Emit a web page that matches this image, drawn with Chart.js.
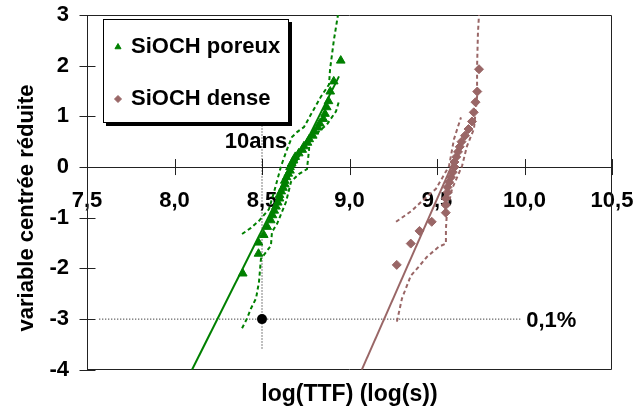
<!DOCTYPE html>
<html><head><meta charset="utf-8">
<script src="https://cdn.jsdelivr.net/npm/chart.js@4/dist/chart.umd.min.js"></script>
<style>html,body{margin:0;padding:0;background:#fff;overflow:hidden}</style>
</head><body>
<canvas id="c" width="636" height="412"></canvas>
<script>
// ---- data ----
const xTickValues = [7.5, 8.0, 8.5, 9.0, 9.5, 10.0, 10.5];
const yTickValues = [-4, -3, -2, -1, 0, 1, 2, 3];
const seriesNames = ['SiOCH poreux', 'SiOCH dense'];
const xAxisTitle = 'log(TTF) (log(s))';
const yAxisTitle = 'variable centrée réduite';
const lifeLabel = '10ans';
const failLabel = '0,1%';

const porousX = [8.39,8.48,8.48,8.51,8.53,8.55,8.56,8.57,8.58,8.59,8.60,8.60,8.61,8.62,8.63,8.63,8.64,8.65,8.66,8.66,8.67,8.68,8.69,8.71,8.73,8.74,8.76,8.77,8.79,8.80,8.82,8.83,8.85,8.86,8.87,8.88,8.89,8.91,8.95];
const porousY = [-2.10,-1.71,-1.49,-1.34,-1.18,-1.05,-0.95,-0.86,-0.78,-0.70,-0.62,-0.55,-0.48,-0.41,-0.34,-0.27,-0.20,-0.13,-0.07,0.00,0.07,0.13,0.20,0.27,0.34,0.41,0.48,0.55,0.62,0.70,0.78,0.86,0.95,1.05,1.18,1.30,1.49,1.69,2.10];

const denseX = [9.27,9.35,9.40,9.47,9.55,9.55,9.55,9.56,9.56,9.57,9.58,9.59,9.60,9.60,9.61,9.62,9.63,9.64,9.66,9.68,9.70,9.71,9.72,9.73,9.74];
const denseY = [-1.93,-1.51,-1.26,-1.08,-0.90,-0.75,-0.62,-0.50,-0.40,-0.30,-0.20,-0.10,0.00,0.10,0.20,0.30,0.40,0.50,0.62,0.75,0.90,1.08,1.28,1.49,1.93];

const porousFitX = [8.10, 8.94];
const porousFitY = [-4.0, 1.79];
const denseFitX = [9.07, 9.67];
const denseFitY = [-4.0, 0.70];

const porousUpperX = [8.386,8.437,8.483,8.54,8.569,8.609,8.643,8.671,8.70,8.74,8.78,8.837,8.883,8.889,8.911,8.934];
const porousUpperY = [-1.32,-1.20,-1.06,-0.83,-0.49,0.02,0.35,0.59,0.69,0.79,1.04,1.39,1.63,1.93,2.51,3.0];
const porousLowerX = [8.386,8.414,8.437,8.466,8.483,8.494,8.551,8.557,8.586,8.637,8.666,8.71,8.757,8.769,8.769,8.809,8.871,8.923,8.94];
const porousLowerY = [-3.18,-2.99,-2.79,-2.59,-2.26,-1.81,-1.55,-1.28,-1.12,-0.69,-0.29,-0.14,-0.04,0.35,0.55,0.65,0.84,1.10,1.30];

const denseUpperX = [9.266,9.357,9.414,9.494,9.569,9.597,9.637];
const denseUpperY = [-1.08,-0.86,-0.67,-0.43,0.02,0.55,0.98];
const denseLowerX = [9.271,9.30,9.351,9.397,9.443,9.511,9.551,9.551,9.557,9.586,9.643,9.671,9.711,9.729,9.729,9.734,9.74];
const denseLowerY = [-3.05,-2.59,-2.14,-1.96,-1.77,-1.57,-1.51,-1.22,-0.88,-0.43,0.02,0.41,0.75,1.39,1.98,2.65,3.0];

const lifeLineX = [8.5, 8.5];
const lifeLineY = [0.82, -3.6];
const failLineX = [7.57, 9.98];
const failLineY = [-3.0, -3.0];
const targetX = [8.5];
const targetY = [-3.0];

// ---- helpers ----
const zip = (xs, ys) => xs.map((x, i) => ({x: x, y: ys[i]}));
const FONT = "'Liberation Sans', Arial, Helvetica, sans-serif";
const GREEN = '#008000';
const BROWN = '#996666';
const AREA = {left: 87, top: 15, right: 612, bottom: 370};
let yAxisWidth = AREA.left;

const lineDs = (xs, ys, color, width, dash) => ({
  type: 'line', label: '', data: zip(xs, ys), borderColor: color, backgroundColor: color,
  borderWidth: width, borderDash: dash || [], pointRadius: 0, showLine: true, fill: false, tension: 0
});

const datasets = [
  {type: 'scatter', label: seriesNames[0], data: zip(porousX, porousY), pointStyle: 'triangle',
   pointRadius: 5, borderWidth: 1, backgroundColor: GREEN, borderColor: GREEN},
  {type: 'scatter', label: seriesNames[1], data: zip(denseX, denseY), pointStyle: 'rectRot',
   pointRadius: 4.5, borderWidth: 1, backgroundColor: BROWN, borderColor: BROWN},
  {type: 'scatter', label: '', data: zip(targetX, targetY), pointStyle: 'circle',
   pointRadius: 5, borderWidth: 0, backgroundColor: '#000', borderColor: '#000'},
  lineDs(porousFitX, porousFitY, GREEN, 2, []),
  lineDs(denseFitX, denseFitY, BROWN, 2, []),
  lineDs(porousUpperX, porousUpperY, GREEN, 2, [4, 3]),
  lineDs(porousLowerX, porousLowerY, GREEN, 2, [4, 3]),
  lineDs(denseUpperX, denseUpperY, BROWN, 2, [4, 3]),
  lineDs(denseLowerX, denseLowerY, BROWN, 2, [4, 3]),
  lineDs(lifeLineX, lifeLineY, '#000', 1, [1, 2]),
  lineDs(failLineX, failLineY, '#000', 1, [1, 2])
];

// frame + crossing ticks
const framePlugin = {
  id: 'frame',
  beforeDatasetsDraw(chart) {
    const {ctx, chartArea: a, scales: {x, y}} = chart;
    ctx.save();
    ctx.strokeStyle = '#222';
    ctx.lineWidth = 1;
    const L = Math.round(a.left) + 0.5, R = Math.round(a.right) - 0.5;
    const T = Math.round(a.top) + 0.5, B = Math.round(a.bottom) - 0.5;
    ctx.beginPath();
    ctx.moveTo(L, T); ctx.lineTo(R, T); ctx.lineTo(R, B); ctx.lineTo(L, B); ctx.closePath();
    ctx.stroke();
    ctx.beginPath();
    yTickValues.forEach(v => {
      const py = Math.round(y.getPixelForValue(v)) + 0.5;
      ctx.moveTo(L - 8, py); ctx.lineTo(L + 8, py);
    });
    const y0 = y.getPixelForValue(0);
    xTickValues.forEach(v => {
      const px = Math.round(x.getPixelForValue(v)) + 0.5;
      ctx.moveTo(px, y0 - 8); ctx.lineTo(px, y0 + 8);
    });
    ctx.stroke();
    ctx.restore();
  }
};

// annotations, y title and legend
const overlayPlugin = {
  id: 'overlay',
  afterDatasetsDraw(chart) {
    const {ctx, scales: {x, y}} = chart;
    ctx.save();
    ctx.fillStyle = '#000';
    ctx.font = 'bold 22px ' + FONT;
    ctx.textBaseline = 'middle';
    ctx.textAlign = 'center';
    ctx.fillText(lifeLabel, x.getPixelForValue(8.466), y.getPixelForValue(0.49));
    ctx.textAlign = 'left';
    ctx.fillText(failLabel, x.getPixelForValue(10.01), y.getPixelForValue(-3.04));

    // y axis title
    ctx.save();
    ctx.translate(27, 208);
    ctx.rotate(-Math.PI / 2);
    ctx.textAlign = 'center';
    ctx.fillText(yAxisTitle, 0, 0);
    ctx.restore();

    // legend box
    const bx = 103, by = 19, bw = 186, bh = 104;
    ctx.fillStyle = '#000';
    ctx.fillRect(bx + 3, by + 3, bw, bh);
    ctx.fillStyle = '#fff';
    ctx.fillRect(bx, by, bw, bh);
    ctx.strokeStyle = '#000';
    ctx.lineWidth = 1;
    ctx.strokeRect(bx + 0.5, by + 0.5, bw - 1, bh - 1);
    const rows = [47, 99];
    [0, 1].forEach((di, i) => {
      const ds = chart.data.datasets[di];
      const yy = rows[i];
      const opts = {pointStyle: ds.pointStyle, radius: 3.5, borderWidth: 1, rotation: 0};
      ctx.fillStyle = ds.backgroundColor;
      ctx.strokeStyle = ds.borderColor;
      ctx.lineWidth = 1;
      if (Chart.helpers && Chart.helpers.drawPoint) {
        Chart.helpers.drawPoint(ctx, opts, 118, yy);
      }
      ctx.fillStyle = '#000';
      ctx.textAlign = 'left';
      ctx.textBaseline = 'middle';
      ctx.font = 'bold 22px ' + FONT;
      ctx.fillText(ds.label, 131, yy);
    });
    ctx.restore();
  }
};

const chart = new Chart(document.getElementById('c'), {
  type: 'scatter',
  data: {datasets: datasets},
  options: {
    responsive: false,
    animation: false,
    events: [],
    layout: {padding: {left: 0, right: 24, top: 15, bottom: 3.6}},
    plugins: {
      legend: {display: false},
      tooltip: {enabled: false},
      title: {
        display: true, position: 'bottom', fullSize: false, text: xAxisTitle, color: '#000',
        font: {family: FONT, size: 23, weight: 'bold', lineHeight: 1.2},
        padding: {top: 11, bottom: 0}
      }
    },
    scales: {
      x: {
        type: 'linear', position: {y: 0}, min: 7.5, max: 10.5,
        afterBuildTicks: s => { s.ticks = xTickValues.map(v => ({value: v})); },
        afterFit: s => { s.height = 0; s.paddingLeft = 0; s.paddingRight = 0; s.paddingTop = 0; s.paddingBottom = 0; },
        ticks: {
          callback: v => Number(v).toFixed(1).replace('.', ','),
          padding: 21, color: '#000', autoSkip: false, maxRotation: 0,
          font: {family: FONT, size: 22, weight: 'bold', lineHeight: 1.2}
        },
        grid: {display: true, drawOnChartArea: false, drawTicks: false},
        border: {display: true, color: '#222', width: 1}
      },
      y: {
        type: 'linear', position: 'left', min: -4, max: 3,
        afterBuildTicks: s => { s.ticks = yTickValues.map(v => ({value: v})); },
        afterFit: s => { s.width = yAxisWidth; s.paddingTop = 0; s.paddingBottom = 0; },
        ticks: {
          padding: 18, color: '#000',
          font: {family: FONT, size: 22, weight: 'bold', lineHeight: 1.2}
        },
        grid: {display: true, drawOnChartArea: false, drawTicks: false},
        border: {display: true, color: '#222', width: 1}
      }
    }
  },
  plugins: [framePlugin, overlayPlugin]
});

// settle the plot area onto the reference frame
for (let i = 0; i < 5; i++) {
  const a = chart.chartArea;
  const p = chart.options.layout.padding;
  const dt = AREA.top - a.top, dr = a.right - AREA.right, db = a.bottom - AREA.bottom, dl = AREA.left - a.left;
  if (Math.abs(dt) < 0.5 && Math.abs(dr) < 0.5 && Math.abs(db) < 0.5 && Math.abs(dl) < 0.5) break;
  p.top = Math.max(0, p.top + dt);
  p.right = Math.max(0, p.right + dr);
  p.bottom = Math.max(0, p.bottom + db);
  yAxisWidth += dl;
  chart.update();
}
</script>
</body></html>
